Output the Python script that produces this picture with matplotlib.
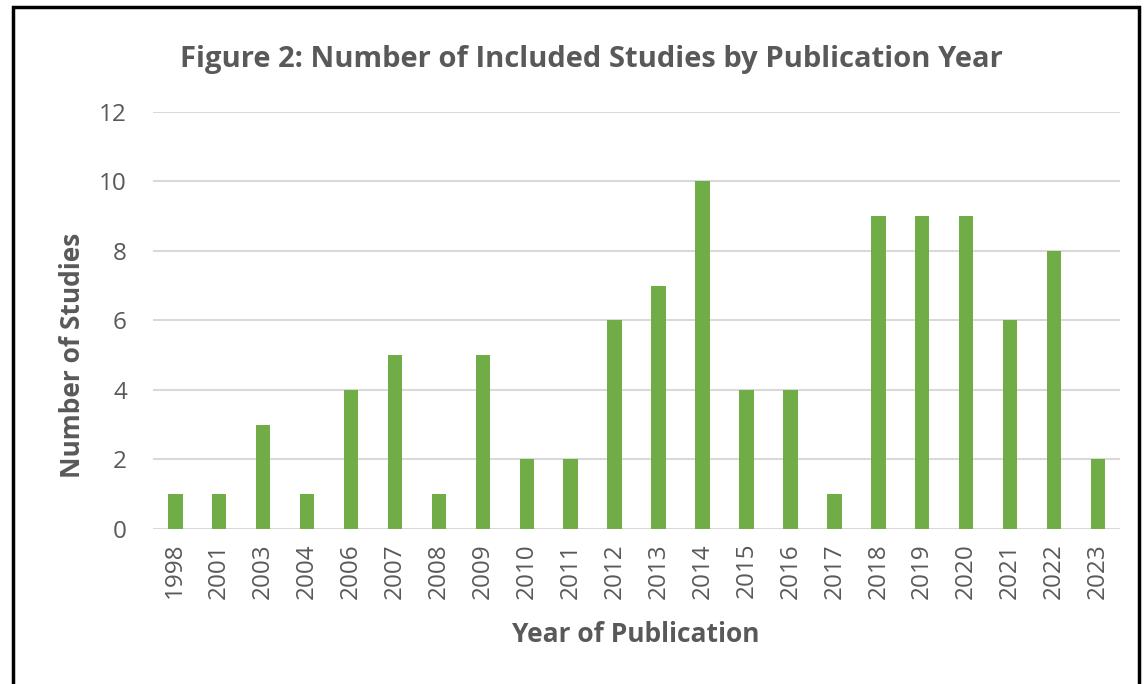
import matplotlib.pyplot as plt
from matplotlib.patches import Rectangle

plt.rcParams['font.family'] = ['Open Sans', 'DejaVu Sans']

years = ['1998', '2001', '2003', '2004', '2006', '2007', '2008', '2009', '2010', '2011',
         '2012', '2013', '2014', '2015', '2016', '2017', '2018', '2019', '2020', '2021',
         '2022', '2023']
counts = [1, 1, 3, 1, 4, 5, 1, 5, 2, 2, 6, 7, 10, 4, 4, 1, 9, 9, 9, 6, 8, 2]

text_col = '#595959'
bar_col = '#70AD47'

fig = plt.figure(figsize=(11.44, 6.84), dpi=100)
ax = fig.add_axes([0.134, 0.2266, 0.845, 0.6097])

x = range(len(years))
ax.bar(x, counts, width=0.33, color=bar_col, zorder=3)

ax.set_xlim(-0.5, len(years) - 0.5)
ax.set_ylim(0, 12)
ax.set_yticks(range(0, 13, 2))
ax.set_xticks(list(x))
ax.set_xticklabels(years, rotation=90)
ax.grid(axis='y', color='#D9D9D9', lw=1.5, zorder=0)
ax.tick_params(length=0, labelsize=17.5, colors=text_col, pad=10)
ax.tick_params(axis='y', pad=19)
for s in ax.spines.values():
    s.set_visible(False)

fig.text(636 / 1144, 1 - 635 / 684, 'Year of Publication', ha='center', va='center',
         fontsize=19, fontweight='bold', color=text_col)
fig.text(72 / 1144, 1 - 355 / 684, 'Number of Studies', ha='center', va='center',
         rotation=90, fontsize=19, fontweight='bold', color=text_col)
fig.text(591 / 1144, 1 - 60 / 684, 'Figure 2: Number of Included Studies by Publication Year',
         ha='center', va='center', fontsize=21, fontweight='bold', color=text_col)

# black frame around the chart area
fig.add_artist(Rectangle((13 / 1144, -0.05), (1139 - 13) / 1144, 1.05 - 7 / 684,
                         transform=fig.transFigure, fill=False, ec='black', lw=2.5))

fig.savefig('out.png', dpi=100, facecolor='white')
